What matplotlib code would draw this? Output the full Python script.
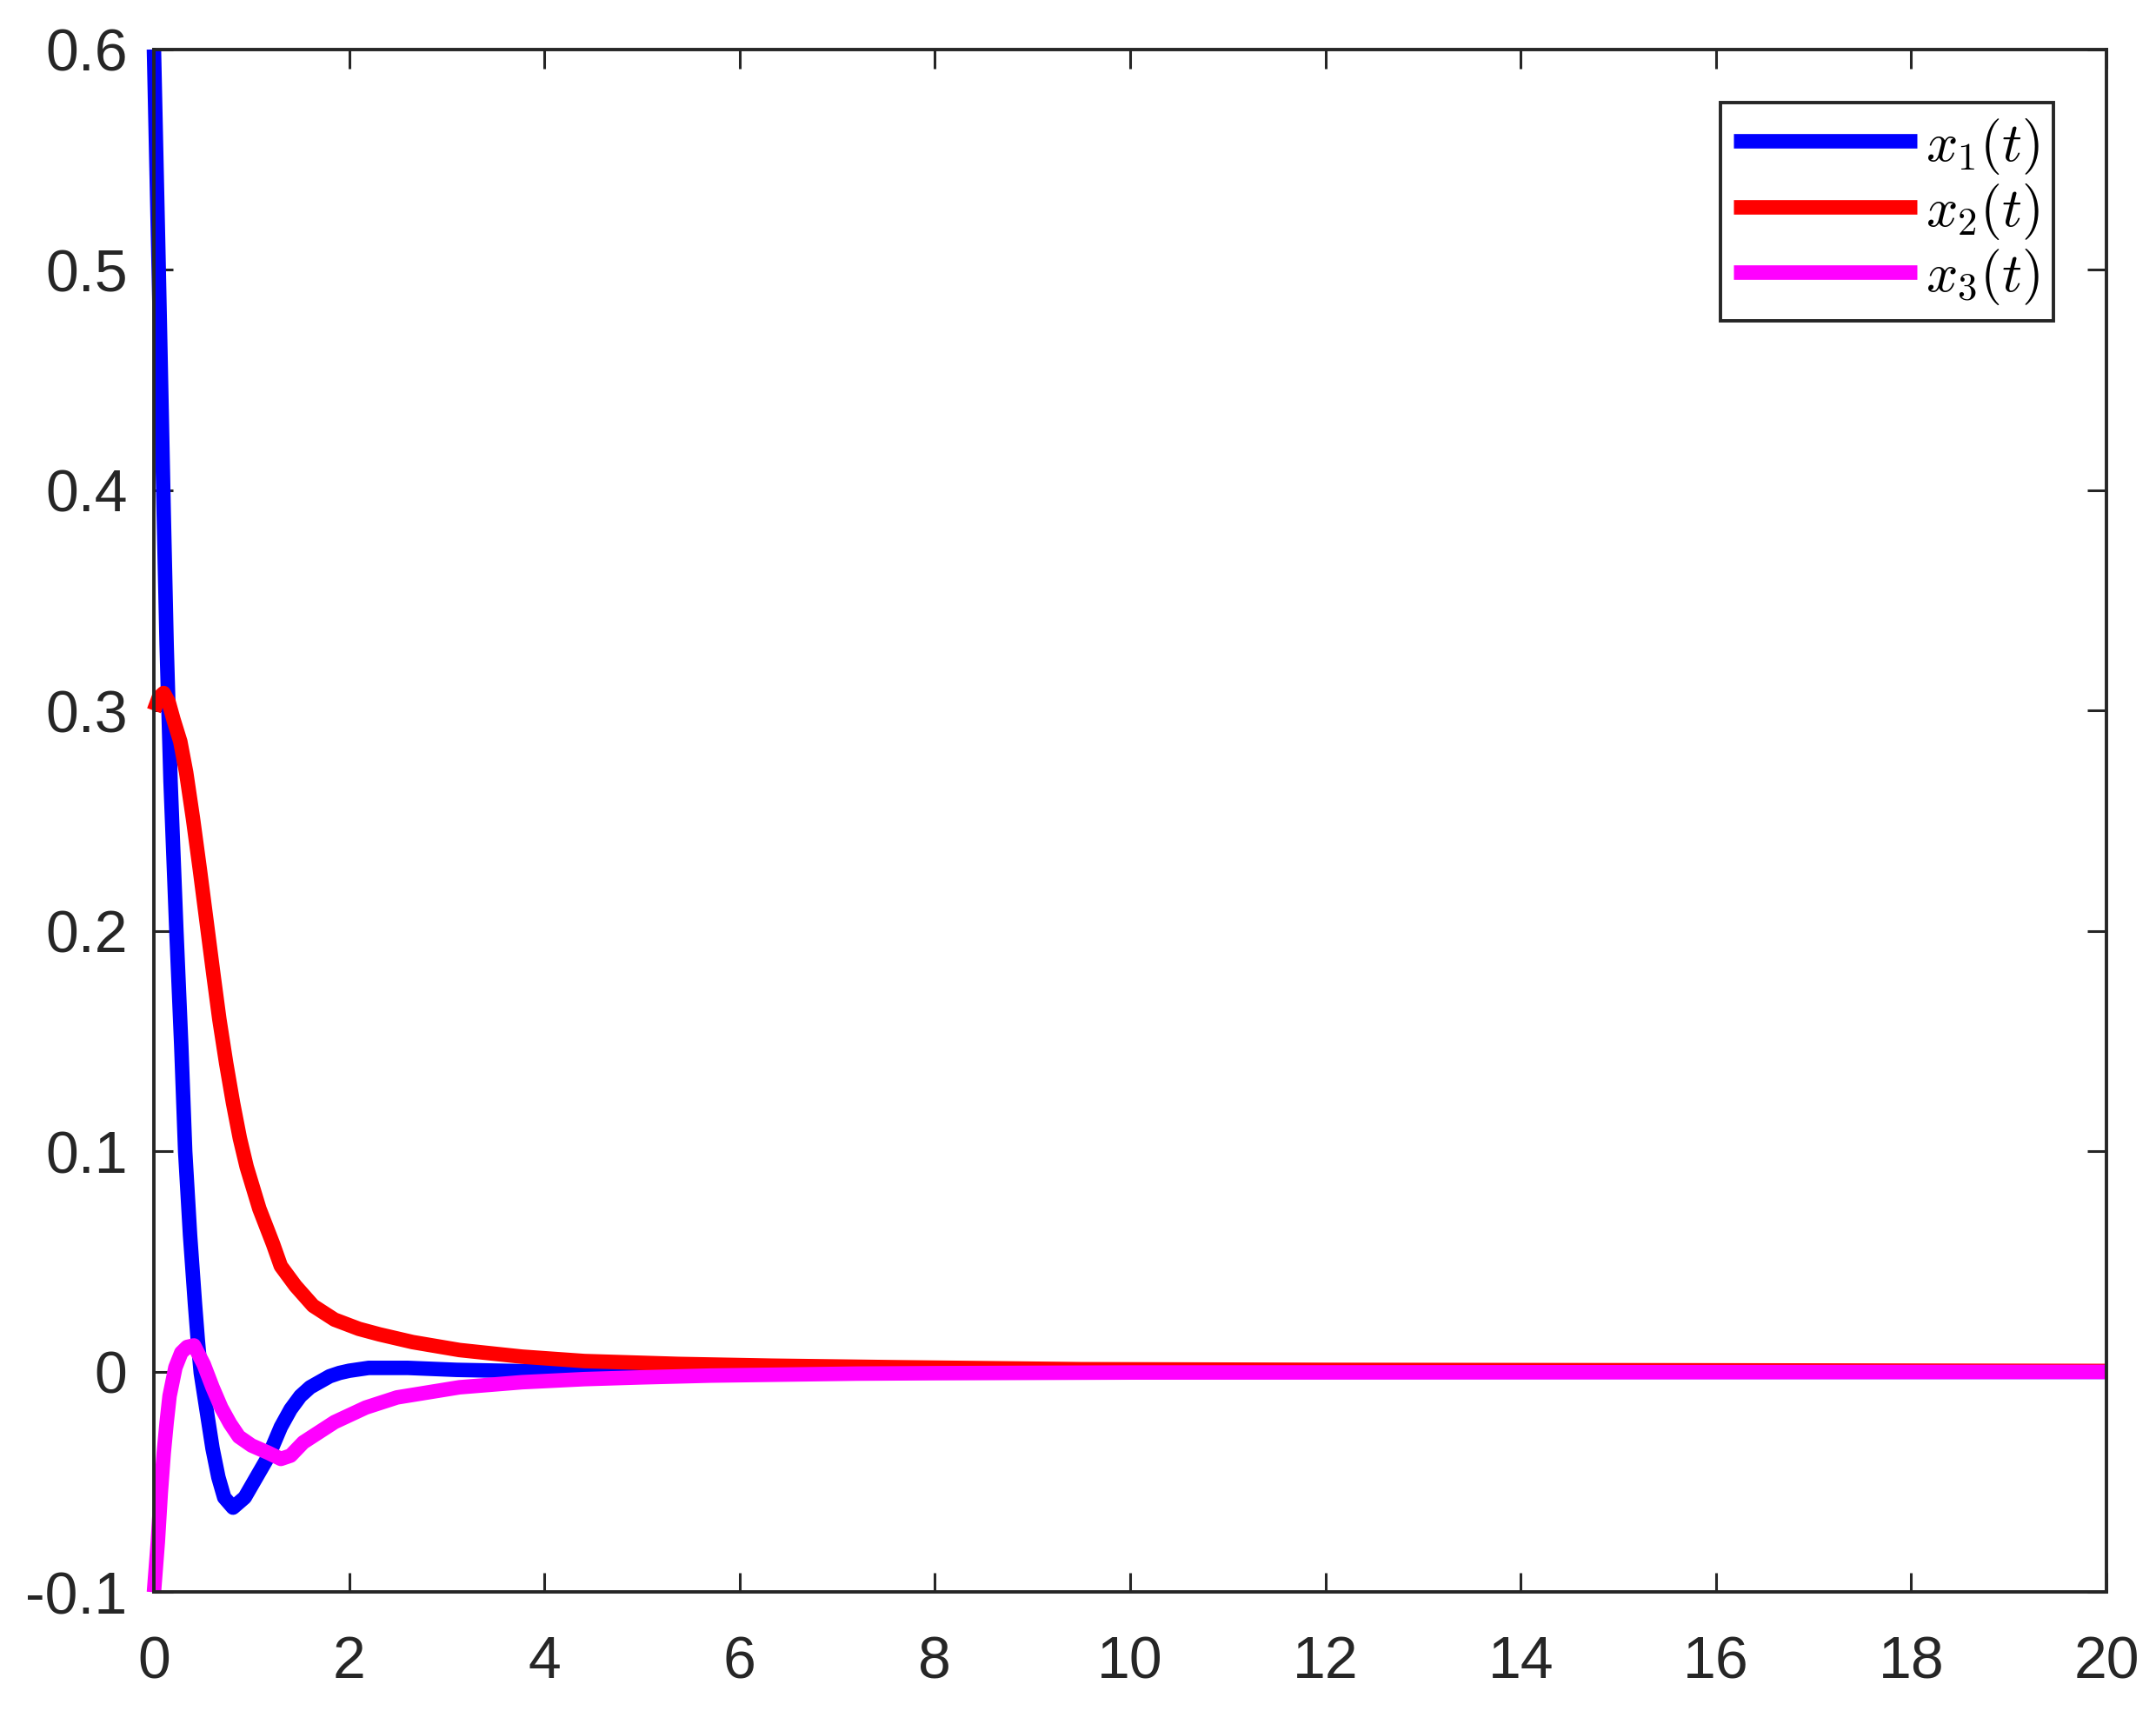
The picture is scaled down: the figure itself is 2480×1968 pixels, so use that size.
import matplotlib
matplotlib.use("Agg")
import matplotlib.pyplot as plt

# values, t in seconds
t1 = [0, 0.05, 0.1, 0.13, 0.17, 0.23, 0.28, 0.32, 0.37, 0.42, 0.45, 0.48, 0.54,
      0.6, 0.66, 0.72, 0.81, 0.93, 1.05, 1.17, 1.3, 1.4, 1.5, 1.6, 1.7, 1.8,
      1.9, 2.0, 2.2, 2.6, 3.1, 3.8, 4.5, 6, 20]
x1 = [0.6, 0.498, 0.39, 0.33, 0.268, 0.2, 0.148, 0.1, 0.062, 0.031, 0.014, -0.0005, -0.0176,
      -0.0347, -0.0478, -0.057, -0.0616, -0.057, -0.0478, -0.0386, -0.025, -0.017, -0.011, -0.007, -0.0045, -0.002,
      -0.0005, 0.0005, 0.0018, 0.0018, 0.0009, 0.0003, 0.0001, 0.0, 0.0]

t2 = [0, 0.05, 0.1, 0.15, 0.2, 0.27, 0.33, 0.4, 0.47, 0.54, 0.61, 0.67, 0.74,
      0.81, 0.88, 0.95, 1.08, 1.22, 1.3, 1.45, 1.63, 1.85, 2.1, 2.31, 2.65, 3.13,
      3.77, 4.41, 5.37, 6.33, 7.6, 9.5, 12, 15.7, 20]
x2 = [0.300, 0.306, 0.308, 0.304, 0.296, 0.286, 0.272, 0.251, 0.228, 0.204, 0.180, 0.160, 0.140,
      0.122, 0.106, 0.093, 0.074, 0.058, 0.048, 0.039, 0.030, 0.0237, 0.0195, 0.017, 0.0135, 0.0099,
      0.0069, 0.0049, 0.0036, 0.0028, 0.0021, 0.0012, 0.0009, 0.0007, 0.0004]

t3 = [0, 0.04, 0.07, 0.1, 0.13, 0.16, 0.22, 0.28, 0.34, 0.41, 0.51, 0.6, 0.69,
      0.78, 0.87, 1.0, 1.17, 1.3, 1.4, 1.53, 1.85, 2.17, 2.49, 3.13, 3.77, 4.41,
      5.0, 5.7, 7.2, 8.0, 10, 20]
x3 = [-0.1, -0.077, -0.055, -0.037, -0.023, -0.011, 0.002, 0.0087, 0.0113, 0.012, 0.0034, -0.007, -0.0163,
      -0.0235, -0.0294, -0.0334, -0.0367, -0.0395, -0.038, -0.032, -0.0228, -0.0162, -0.0116, -0.007, -0.0047, -0.0033,
      -0.0025, -0.0017, -0.0008, -0.0006, -0.0003, 0.0]

labels = ["$x_1(t)$", "$x_2(t)$", "$x_3(t)$"]
colors = ["#0000ff", "#ff0000", "#ff00ff"]
xticks = [0, 2, 4, 6, 8, 10, 12, 14, 16, 18, 20]
yticks = [-0.1, 0, 0.1, 0.2, 0.3, 0.4, 0.5, 0.6]
ytick_labels = ["-0.1", "0", "0.1", "0.2", "0.3", "0.4", "0.5", "0.6"]

plt.rcParams["font.family"] = ["Liberation Sans", "DejaVu Sans"]
plt.rcParams["mathtext.fontset"] = "cm"

fig = plt.figure(figsize=(12.4, 9.84), dpi=200)
ax = fig.add_axes([0.0714, 0.0694, 0.9056, 0.9017])

for t, x, c, lab in zip([t1, t2, t3], [x1, x2, x3], colors, labels):
    ax.plot(t, x, color=c, lw=6, label=lab, solid_capstyle="butt",
            solid_joinstyle="round", clip_on=False)

ax.set_xlim(0, 20)
ax.set_ylim(-0.1, 0.6)
ax.set_xticks(xticks)
ax.set_xticklabels([str(v) for v in xticks])
ax.set_yticks(yticks)
ax.set_yticklabels(ytick_labels)

dark = "#262626"
for s in ax.spines.values():
    s.set_color(dark)
    s.set_linewidth(1.4)
ax.tick_params(direction="in", length=7.8, width=1.1, color=dark,
               labelcolor=dark, labelsize=24.5, top=True, right=True)
ax.tick_params(axis="x", pad=17.5)
ax.tick_params(axis="y", pad=11)

leg = ax.legend(loc="upper right", fontsize=23, fancybox=False,
                handlelength=3.3, handletextpad=0.15, borderpad=0.25,
                labelspacing=0.1, borderaxespad=0.95, framealpha=1)
leg.get_frame().set_edgecolor(dark)
leg.get_frame().set_linewidth(1.4)

fig.savefig("out.png", dpi=200, facecolor="white")
